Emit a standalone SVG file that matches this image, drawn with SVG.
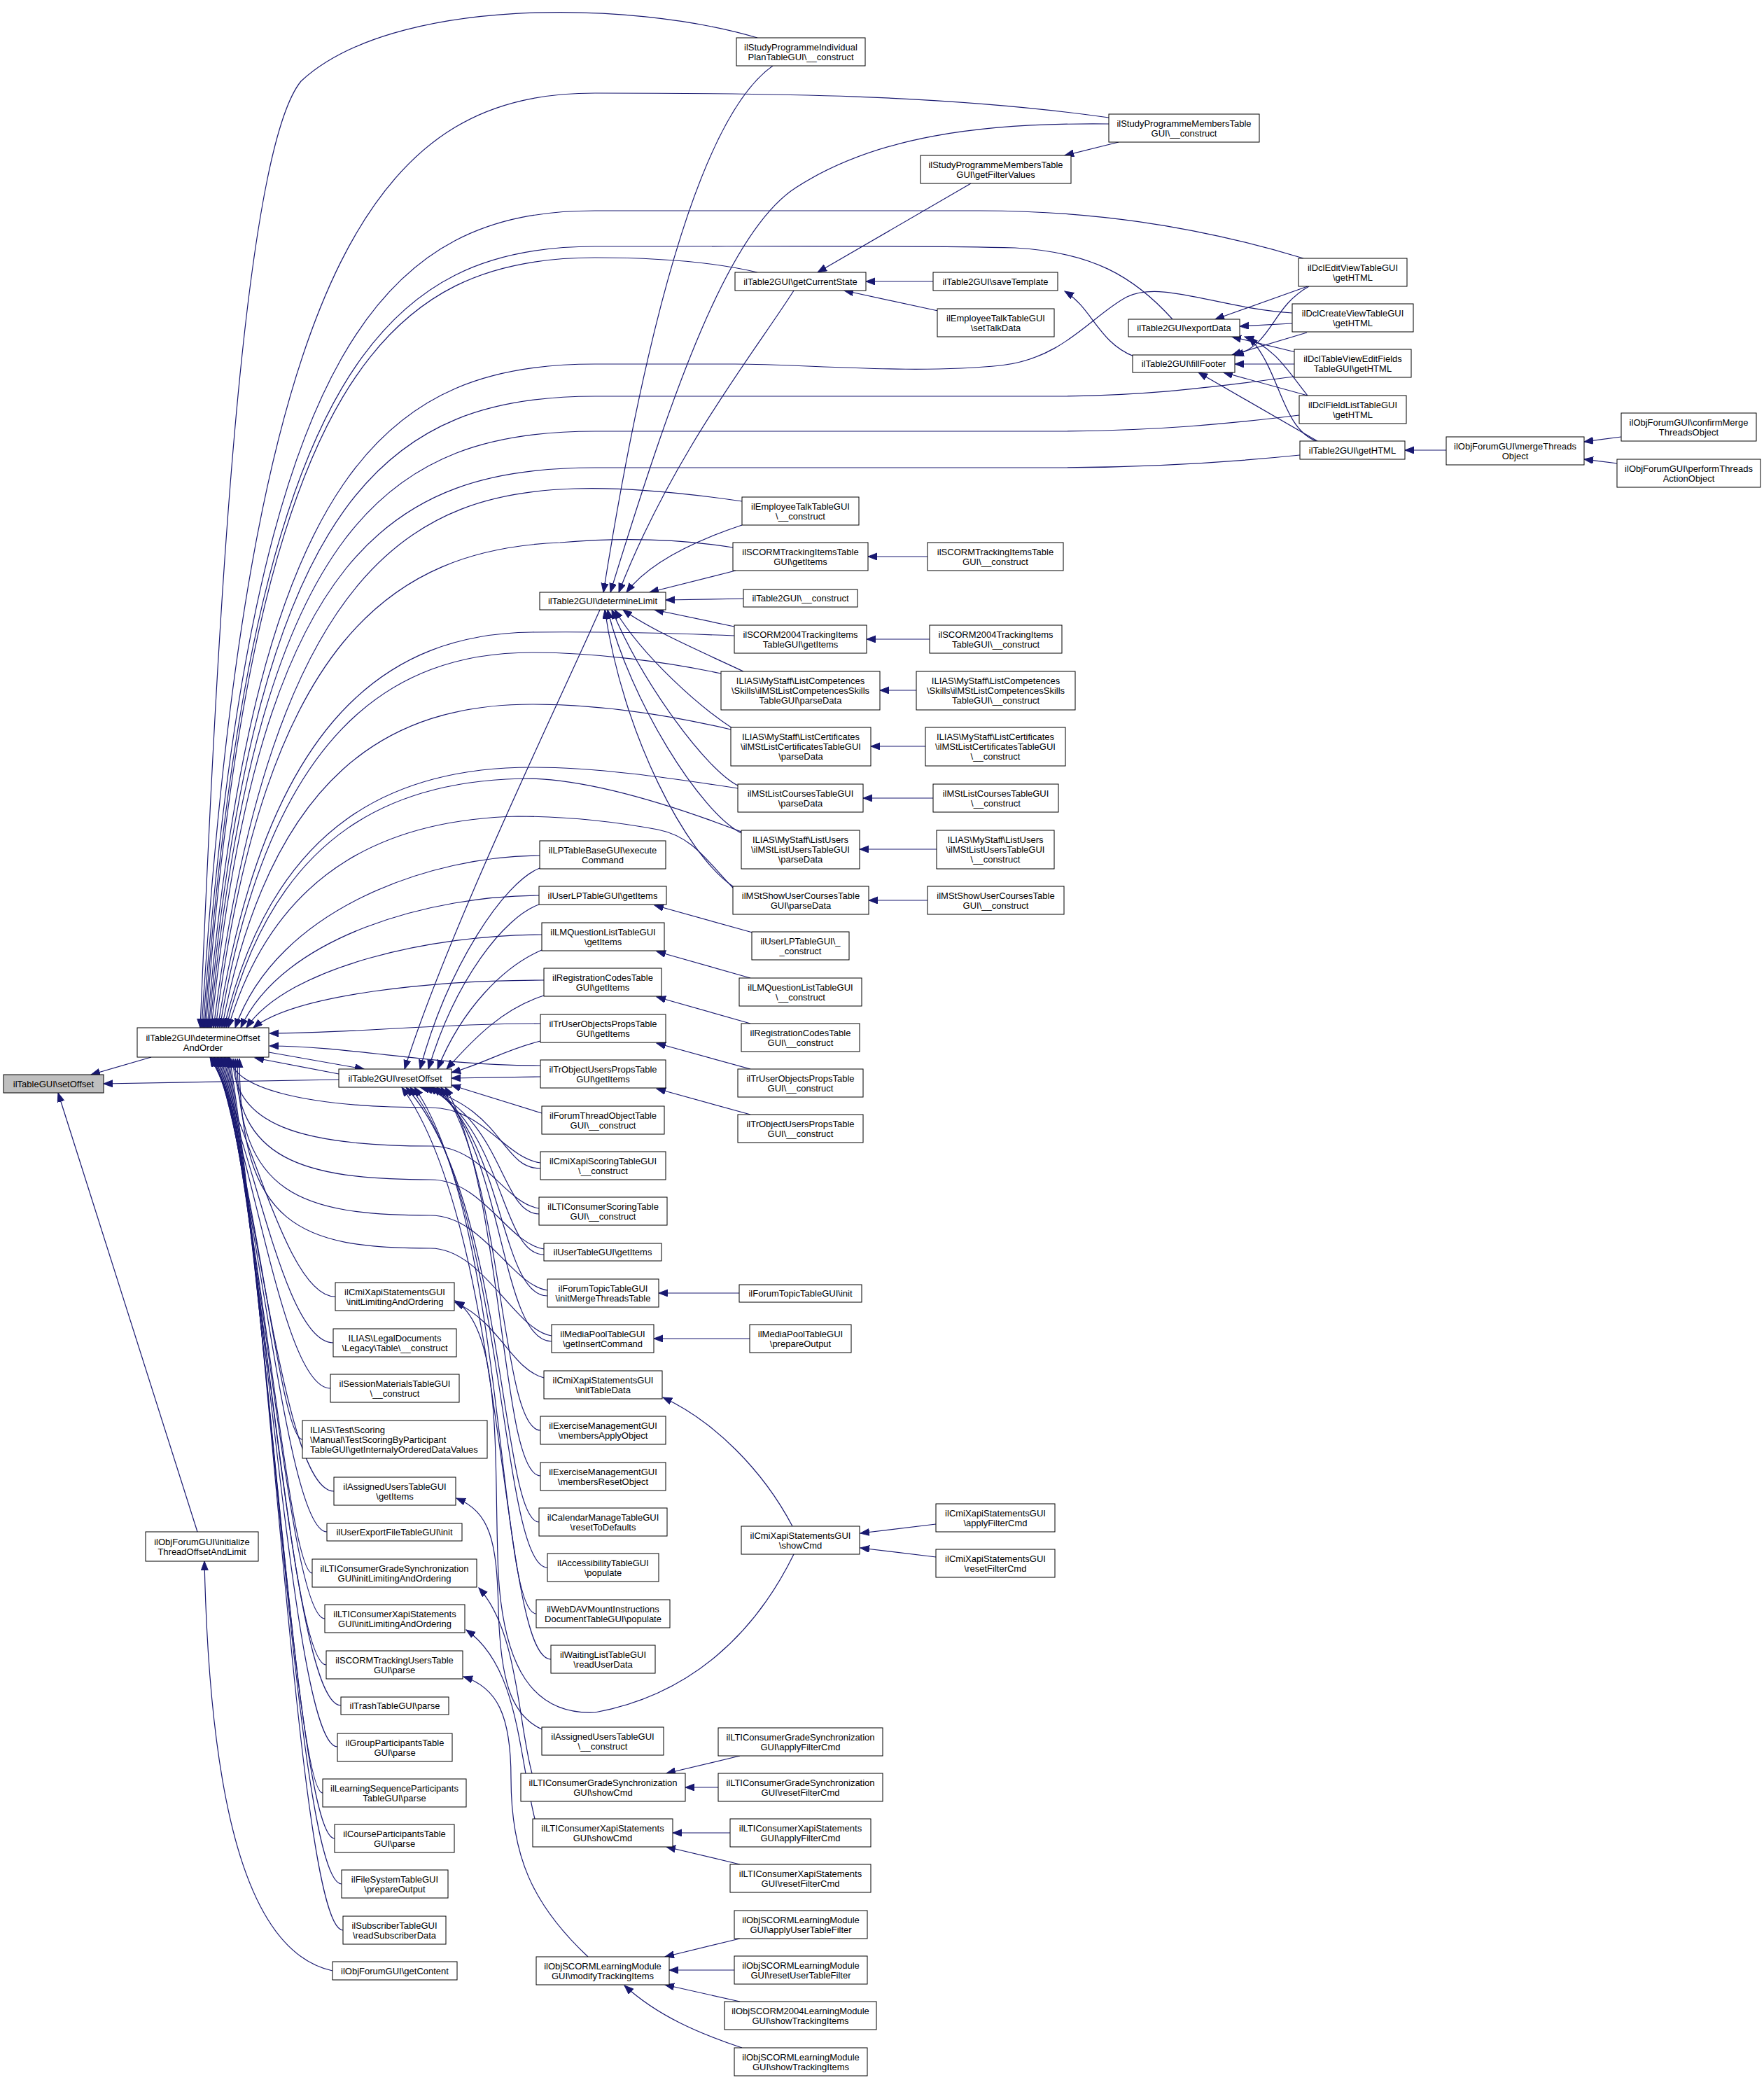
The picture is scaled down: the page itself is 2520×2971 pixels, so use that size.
<svg xmlns="http://www.w3.org/2000/svg" width="2520" height="2971" viewBox="0 0 2520 2971">
<defs>
<marker id="a" markerWidth="14" markerHeight="11" refX="13" refY="5" orient="auto" markerUnits="userSpaceOnUse"><path d="M0,0 L13,5 L0,10 z" fill="#191970" stroke="#191970" stroke-width="1"/></marker>
<style>
.e path{fill:none;stroke:#191970;stroke-width:1.2;marker-end:url(#a)}
.nd rect{fill:#fff;stroke:#000;stroke-width:1}
.nd text{font-family:"Liberation Sans",Arial,Helvetica,sans-serif;font-size:13px;fill:#000;text-anchor:middle}
.root rect{fill:#bfbfbf}
</style>
</defs>
<rect x="0" y="0" width="2520" height="2971" fill="#fff"/>
<g id="edges" class="e">
<path d="M216,1510 L130,1535"/>
<path d="M484,1542 L148,1548"/>
<path d="M282,2188 L83,1561"/>
<path d="M484,1534 L364,1511"/>
<path d="M384,1503 L520,1527"/>
<path d="M475,2815 C360,2790 300,2600 292,2230"/>
<path d="M1082,54 C900,0 560,-5 430,116 C345,220 310,900 286,1468"/>
<path d="M1584,168 C1350,135 1100,133 850,133 C560,133 358,333 288,1468"/>
<path d="M1862,369 C1700,320 1550,301 1400,301 L850,301 C560,301 360,476 290,1468"/>
<path d="M1675,456 C1620,395 1560,360 1450,354 C1300,350 1100,352 850,352 C560,352 362,519 292,1468"/>
<path d="M1082,389 C1010,372 930,368 850,368 C560,368 364,533 294,1468"/>
<path d="M1846,447 C1740,440 1660,400 1610,424 C1560,450 1520,512 1430,522 C1300,535 1150,520 1050,520 L850,520 C560,520 366,662 296,1468"/>
<path d="M1849,538 C1750,550 1650,566 1500,566 L850,566 C560,566 368,701 298,1468"/>
<path d="M1856,593 C1760,605 1650,616 1500,616 L850,616 C560,616 370,744 300,1468"/>
<path d="M1857,650 C1760,660 1650,668 1500,668 L850,668 C560,668 372,788 302,1468"/>
<path d="M1060,716 C950,700 880,696 820,698 C600,705 390,800 305,1468"/>
<path d="M1047,782 C960,768 880,768 800,775 C560,785 378,914 308,1468"/>
<path d="M1049,908 C950,904 850,902 760,903 C560,905 381,1020 311,1468"/>
<path d="M1030,962 C950,945 850,932 760,932 C560,932 384,1045 314,1468"/>
<path d="M1044,1042 C950,1020 850,1006 760,1006 C560,1006 387,1100 317,1468"/>
<path d="M1054,1126 C950,1110 850,1096 760,1096 C570,1096 390,1170 320,1468"/>
<path d="M1059,1188 C960,1150 850,1115 760,1112 C570,1112 393,1183 323,1468"/>
<path d="M1047,1268 C1010,1230 990,1195 940,1185 C870,1172 800,1166 740,1166 C570,1170 396,1230 326,1468"/>
<path d="M771,1222 C620,1222 396,1296 336,1468"/>
<path d="M770,1279 C620,1279 404,1336 344,1468"/>
<path d="M774,1335 C620,1335 412,1380 352,1468"/>
<path d="M777,1400 C620,1400 422,1420 362,1468"/>
<path d="M772,1462 C620,1462 500,1476 385,1476"/>
<path d="M772,1522 C620,1522 500,1494 385,1494"/>
<path d="M479,1852 C410,1852 360,1614 300,1510"/>
<path d="M476,1918 C405,1918 362,1634 302,1510"/>
<path d="M472,1983 C405,1983 364,1654 304,1510"/>
<path d="M432,2056 C400,2056 366,1675 306,1510"/>
<path d="M477,2130 C405,2130 368,1697 308,1510"/>
<path d="M467,2188 C410,2188 370,1715 310,1510"/>
<path d="M446,2247 C412,2247 372,1733 312,1510"/>
<path d="M464,2312 C414,2312 374,1752 314,1510"/>
<path d="M466,2378 C416,2378 376,1772 316,1510"/>
<path d="M487,2436 C418,2436 378,1789 318,1510"/>
<path d="M482,2495 C420,2495 380,1807 320,1510"/>
<path d="M461,2561 C422,2561 382,1827 322,1510"/>
<path d="M478,2626 C424,2626 384,1846 324,1510"/>
<path d="M488,2691 C426,2691 386,1866 326,1510"/>
<path d="M490,2757 C428,2757 388,1885 328,1510"/>
<path d="M772,1661 C720,1653 690,1582 615,1582 C430,1582 330,1552 330,1512"/>
<path d="M770,1726 C720,1718 690,1637 615,1637 C430,1637 333,1607 333,1512"/>
<path d="M777,1784 C725,1776 690,1685 615,1685 C430,1685 336,1655 336,1512"/>
<path d="M782,1843 C730,1835 690,1736 615,1736 C430,1736 339,1706 339,1512"/>
<path d="M788,1908 C735,1900 690,1783 615,1783 C430,1783 342,1753 342,1512"/>
<path d="M857,871 C800,1000 640,1330 578,1527"/>
<path d="M771,1240 C720,1260 640,1380 600,1527"/>
<path d="M770,1292 C720,1310 650,1400 612,1527"/>
<path d="M774,1357 C720,1380 660,1440 625,1527"/>
<path d="M777,1422 C720,1440 680,1480 638,1527"/>
<path d="M772,1487 C720,1500 690,1520 645,1532"/>
<path d="M772,1538 L645,1540"/>
<path d="M774,1590 L645,1550"/>
<path d="M772,1669 C715,1669 720,1582 600,1553"/>
<path d="M770,1734 C715,1734 720,1598 606,1553"/>
<path d="M777,1792 C715,1792 720,1613 612,1553"/>
<path d="M782,1851 C715,1851 720,1628 618,1553"/>
<path d="M788,1916 C715,1916 720,1644 624,1553"/>
<path d="M772,2043 C715,2043 720,1676 630,1553"/>
<path d="M772,2108 C715,2108 720,1692 636,1553"/>
<path d="M770,2174 C715,2174 722,1708 580,1553"/>
<path d="M782,2239 C715,2239 722,1725 586,1553"/>
<path d="M766,2305 C712,2305 722,1741 592,1553"/>
<path d="M787,2370 C715,2370 724,1757 574,1553"/>
<path d="M1104,94 C1010,160 930,420 862,846"/>
<path d="M1584,177 C1400,175 1250,195 1137,268 C1040,330 960,560 872,846"/>
<path d="M1134,415 C1080,500 960,650 884,846"/>
<path d="M1060,750 C1000,770 930,800 895,846"/>
<path d="M1051,815 L928,846"/>
<path d="M1062,855 L951,857"/>
<path d="M1049,895 L935,871"/>
<path d="M1062,959 C1000,930 930,900 890,871"/>
<path d="M1046,1040 C1000,1010 920,940 878,871"/>
<path d="M1054,1122 C1010,1100 920,980 874,871"/>
<path d="M1059,1190 C1000,1160 900,1000 868,871"/>
<path d="M1047,1266 C980,1220 890,1050 864,871"/>
<path d="M1598,203 L1521,222"/>
<path d="M1387,262 L1168,389"/>
<path d="M1333,402 L1237,402"/>
<path d="M1340,444 L1206,415"/>
<path d="M1620,509 C1570,490 1560,440 1521,416"/>
<path d="M1868,409 L1736,456"/>
<path d="M1870,409 C1815,440 1820,490 1764,508"/>
<path d="M1846,462 L1771,466"/>
<path d="M1867,475 L1760,507"/>
<path d="M1851,503 L1760,481"/>
<path d="M1849,520 L1764,520"/>
<path d="M1868,565 C1840,530 1820,495 1778,481"/>
<path d="M1868,565 L1748,532"/>
<path d="M1880,630 C1830,610 1830,530 1784,481"/>
<path d="M1882,630 L1712,532"/>
<path d="M2066,643 L2007,643"/>
<path d="M2316,624 L2263,631"/>
<path d="M2311,662 L2263,656"/>
<path d="M1325,795 L1240,795"/>
<path d="M1328,913 L1238,913"/>
<path d="M1309,986 L1257,986"/>
<path d="M1322,1066 L1244,1066"/>
<path d="M1333,1140 L1233,1140"/>
<path d="M1338,1213 L1228,1213"/>
<path d="M1325,1286 L1241,1286"/>
<path d="M1075,1332 L935,1293"/>
<path d="M1072,1397 L938,1359"/>
<path d="M1072,1462 L938,1424"/>
<path d="M1072,1527 L938,1490"/>
<path d="M1072,1592 L938,1555"/>
<path d="M1056,1847 L941,1847"/>
<path d="M1071,1912 L934,1912"/>
<path d="M1132,2180 C1090,2100 1020,2030 947,1996"/>
<path d="M1134,2220 C1080,2330 990,2420 850,2446 C760,2450 720,2380 712,2250 C705,2100 720,1900 650,1858"/>
<path d="M777,1968 C730,1955 715,1890 650,1860"/>
<path d="M1337,2177 L1229,2190"/>
<path d="M1337,2224 L1229,2211"/>
<path d="M774,2470 C730,2450 715,2400 712,2300 C710,2200 700,2160 652,2140"/>
<path d="M760,2533 C740,2460 740,2330 684,2268"/>
<path d="M764,2598 C740,2500 740,2380 666,2328"/>
<path d="M840,2795 C760,2720 730,2650 730,2540 C730,2450 710,2410 662,2395"/>
<path d="M1057,2508 L952,2533"/>
<path d="M1026,2553 L979,2553"/>
<path d="M1043,2618 L961,2618"/>
<path d="M1057,2663 L952,2638"/>
<path d="M1057,2769 L950,2795"/>
<path d="M1049,2814 L956,2814"/>
<path d="M1057,2859 L950,2835"/>
<path d="M1060,2925 C1000,2905 940,2880 892,2836"/>
</g>
<g id="n0" class="nd root"><rect x="5" y="1535" width="143" height="26"/><text x="76.5" y="1552.5">ilTableGUI\setOffset</text></g>
<g id="n1" class="nd"><rect x="196" y="1468" width="188" height="42"/><text x="290" y="1486.5">ilTable2GUI\determineOffset</text><text x="290" y="1500.5">AndOrder</text></g>
<g id="n2" class="nd"><rect x="208" y="2188" width="161" height="42"/><text x="288.5" y="2206.5">ilObjForumGUI\initialize</text><text x="288.5" y="2220.5">ThreadOffsetAndLimit</text></g>
<g id="n3" class="nd"><rect x="484" y="1527" width="161" height="26"/><text x="564.5" y="1544.5">ilTable2GUI\resetOffset</text></g>
<g id="n4" class="nd"><rect x="479" y="1832" width="170" height="40"/><text x="564" y="1849.5">ilCmiXapiStatementsGUI</text><text x="564" y="1863.5">\initLimitingAndOrdering</text></g>
<g id="n5" class="nd"><rect x="476" y="1898" width="176" height="40"/><text x="564" y="1915.5">ILIAS\LegalDocuments</text><text x="564" y="1929.5">\Legacy\Table\__construct</text></g>
<g id="n6" class="nd"><rect x="472" y="1963" width="184" height="40"/><text x="564" y="1980.5">ilSessionMaterialsTableGUI</text><text x="564" y="1994.5">\__construct</text></g>
<g id="n7" class="nd"><rect x="432" y="2029" width="264" height="54"/><text x="443" y="2046.5" style="text-anchor:start">ILIAS\Test\Scoring</text><text x="443" y="2060.5" style="text-anchor:start">\Manual\TestScoringByParticipant</text><text x="443" y="2074.5" style="text-anchor:start">TableGUI\getInternalyOrderedDataValues</text></g>
<g id="n8" class="nd"><rect x="477" y="2110" width="174" height="40"/><text x="564" y="2127.5">ilAssignedUsersTableGUI</text><text x="564" y="2141.5">\getItems</text></g>
<g id="n9" class="nd"><rect x="467" y="2176" width="193" height="25"/><text x="563.5" y="2193">ilUserExportFileTableGUI\init</text></g>
<g id="n10" class="nd"><rect x="446" y="2227" width="235" height="40"/><text x="563.5" y="2244.5">ilLTIConsumerGradeSynchronization</text><text x="563.5" y="2258.5">GUI\initLimitingAndOrdering</text></g>
<g id="n11" class="nd"><rect x="464" y="2292" width="200" height="40"/><text x="564" y="2309.5">ilLTIConsumerXapiStatements</text><text x="564" y="2323.5">GUI\initLimitingAndOrdering</text></g>
<g id="n12" class="nd"><rect x="466" y="2358" width="195" height="40"/><text x="563.5" y="2375.5">ilSCORMTrackingUsersTable</text><text x="563.5" y="2389.5">GUI\parse</text></g>
<g id="n13" class="nd"><rect x="487" y="2424" width="154" height="25"/><text x="564" y="2441">ilTrashTableGUI\parse</text></g>
<g id="n14" class="nd"><rect x="482" y="2476" width="164" height="40"/><text x="564" y="2493.5">ilGroupParticipantsTable</text><text x="564" y="2507.5">GUI\parse</text></g>
<g id="n15" class="nd"><rect x="461" y="2541" width="205" height="40"/><text x="563.5" y="2558.5">ilLearningSequenceParticipants</text><text x="563.5" y="2572.5">TableGUI\parse</text></g>
<g id="n16" class="nd"><rect x="478" y="2606" width="171" height="40"/><text x="563.5" y="2623.5">ilCourseParticipantsTable</text><text x="563.5" y="2637.5">GUI\parse</text></g>
<g id="n17" class="nd"><rect x="488" y="2671" width="152" height="40"/><text x="564" y="2688.5">ilFileSystemTableGUI</text><text x="564" y="2702.5">\prepareOutput</text></g>
<g id="n18" class="nd"><rect x="490" y="2737" width="147" height="40"/><text x="563.5" y="2754.5">ilSubscriberTableGUI</text><text x="563.5" y="2768.5">\readSubscriberData</text></g>
<g id="n19" class="nd"><rect x="475" y="2802" width="178" height="26"/><text x="564" y="2819.5">ilObjForumGUI\getContent</text></g>
<g id="n20" class="nd"><rect x="771" y="846" width="180" height="25"/><text x="861" y="863">ilTable2GUI\determineLimit</text></g>
<g id="n21" class="nd"><rect x="771" y="1201" width="180" height="40"/><text x="861" y="1218.5">ilLPTableBaseGUI\execute</text><text x="861" y="1232.5">Command</text></g>
<g id="n22" class="nd"><rect x="770" y="1266" width="182" height="26"/><text x="861" y="1283.5">ilUserLPTableGUI\getItems</text></g>
<g id="n23" class="nd"><rect x="774" y="1318" width="175" height="40"/><text x="861.5" y="1335.5">ilLMQuestionListTableGUI</text><text x="861.5" y="1349.5">\getItems</text></g>
<g id="n24" class="nd"><rect x="777" y="1383" width="168" height="40"/><text x="861" y="1400.5">ilRegistrationCodesTable</text><text x="861" y="1414.5">GUI\getItems</text></g>
<g id="n25" class="nd"><rect x="772" y="1449" width="179" height="40"/><text x="861.5" y="1466.5">ilTrUserObjectsPropsTable</text><text x="861.5" y="1480.5">GUI\getItems</text></g>
<g id="n26" class="nd"><rect x="772" y="1514" width="179" height="40"/><text x="861.5" y="1531.5">ilTrObjectUsersPropsTable</text><text x="861.5" y="1545.5">GUI\getItems</text></g>
<g id="n27" class="nd"><rect x="774" y="1580" width="175" height="40"/><text x="861.5" y="1597.5">ilForumThreadObjectTable</text><text x="861.5" y="1611.5">GUI\__construct</text></g>
<g id="n28" class="nd"><rect x="772" y="1645" width="179" height="40"/><text x="861.5" y="1662.5">ilCmiXapiScoringTableGUI</text><text x="861.5" y="1676.5">\__construct</text></g>
<g id="n29" class="nd"><rect x="770" y="1710" width="183" height="40"/><text x="861.5" y="1727.5">ilLTIConsumerScoringTable</text><text x="861.5" y="1741.5">GUI\__construct</text></g>
<g id="n30" class="nd"><rect x="777" y="1776" width="168" height="25"/><text x="861" y="1793">ilUserTableGUI\getItems</text></g>
<g id="n31" class="nd"><rect x="782" y="1827" width="159" height="40"/><text x="861.5" y="1844.5">ilForumTopicTableGUI</text><text x="861.5" y="1858.5">\initMergeThreadsTable</text></g>
<g id="n32" class="nd"><rect x="788" y="1892" width="146" height="40"/><text x="861" y="1909.5">ilMediaPoolTableGUI</text><text x="861" y="1923.5">\getInsertCommand</text></g>
<g id="n33" class="nd"><rect x="777" y="1958" width="169" height="40"/><text x="861.5" y="1975.5">ilCmiXapiStatementsGUI</text><text x="861.5" y="1989.5">\initTableData</text></g>
<g id="n34" class="nd"><rect x="772" y="2023" width="179" height="40"/><text x="861.5" y="2040.5">ilExerciseManagementGUI</text><text x="861.5" y="2054.5">\membersApplyObject</text></g>
<g id="n35" class="nd"><rect x="772" y="2089" width="179" height="40"/><text x="861.5" y="2106.5">ilExerciseManagementGUI</text><text x="861.5" y="2120.5">\membersResetObject</text></g>
<g id="n36" class="nd"><rect x="770" y="2154" width="183" height="40"/><text x="861.5" y="2171.5">ilCalendarManageTableGUI</text><text x="861.5" y="2185.5">\resetToDefaults</text></g>
<g id="n37" class="nd"><rect x="782" y="2219" width="159" height="40"/><text x="861.5" y="2236.5">ilAccessibilityTableGUI</text><text x="861.5" y="2250.5">\populate</text></g>
<g id="n38" class="nd"><rect x="766" y="2285" width="191" height="40"/><text x="861.5" y="2302.5">ilWebDAVMountInstructions</text><text x="861.5" y="2316.5">DocumentTableGUI\populate</text></g>
<g id="n39" class="nd"><rect x="787" y="2350" width="149" height="40"/><text x="861.5" y="2367.5">ilWaitingListTableGUI</text><text x="861.5" y="2381.5">\readUserData</text></g>
<g id="n40" class="nd"><rect x="774" y="2467" width="174" height="40"/><text x="861" y="2484.5">ilAssignedUsersTableGUI</text><text x="861" y="2498.5">\__construct</text></g>
<g id="n41" class="nd"><rect x="744" y="2533" width="235" height="40"/><text x="861.5" y="2550.5">ilLTIConsumerGradeSynchronization</text><text x="861.5" y="2564.5">GUI\showCmd</text></g>
<g id="n42" class="nd"><rect x="761" y="2598" width="200" height="40"/><text x="861" y="2615.5">ilLTIConsumerXapiStatements</text><text x="861" y="2629.5">GUI\showCmd</text></g>
<g id="n43" class="nd"><rect x="766" y="2795" width="190" height="40"/><text x="861" y="2812.5">ilObjSCORMLearningModule</text><text x="861" y="2826.5">GUI\modifyTrackingItems</text></g>
<g id="n44" class="nd"><rect x="1052" y="54" width="184" height="40"/><text x="1144" y="71.5">ilStudyProgrammeIndividual</text><text x="1144" y="85.5">PlanTableGUI\__construct</text></g>
<g id="n45" class="nd"><rect x="1050" y="389" width="187" height="26"/><text x="1143.5" y="406.5">ilTable2GUI\getCurrentState</text></g>
<g id="n46" class="nd"><rect x="1060" y="710" width="167" height="40"/><text x="1143.5" y="727.5">ilEmployeeTalkTableGUI</text><text x="1143.5" y="741.5">\__construct</text></g>
<g id="n47" class="nd"><rect x="1047" y="775" width="193" height="40"/><text x="1143.5" y="792.5">ilSCORMTrackingItemsTable</text><text x="1143.5" y="806.5">GUI\getItems</text></g>
<g id="n48" class="nd"><rect x="1062" y="842" width="163" height="25"/><text x="1143.5" y="859">ilTable2GUI\__construct</text></g>
<g id="n49" class="nd"><rect x="1049" y="893" width="189" height="40"/><text x="1143.5" y="910.5">ilSCORM2004TrackingItems</text><text x="1143.5" y="924.5">TableGUI\getItems</text></g>
<g id="n50" class="nd"><rect x="1030" y="959" width="227" height="55"/><text x="1143.5" y="977">ILIAS\MyStaff\ListCompetences</text><text x="1143.5" y="991">\Skills\ilMStListCompetencesSkills</text><text x="1143.5" y="1005">TableGUI\parseData</text></g>
<g id="n51" class="nd"><rect x="1044" y="1039" width="200" height="55"/><text x="1144" y="1057">ILIAS\MyStaff\ListCertificates</text><text x="1144" y="1071">\ilMStListCertificatesTableGUI</text><text x="1144" y="1085">\parseData</text></g>
<g id="n52" class="nd"><rect x="1054" y="1120" width="179" height="40"/><text x="1143.5" y="1137.5">ilMStListCoursesTableGUI</text><text x="1143.5" y="1151.5">\parseData</text></g>
<g id="n53" class="nd"><rect x="1059" y="1186" width="169" height="55"/><text x="1143.5" y="1204">ILIAS\MyStaff\ListUsers</text><text x="1143.5" y="1218">\ilMStListUsersTableGUI</text><text x="1143.5" y="1232">\parseData</text></g>
<g id="n54" class="nd"><rect x="1047" y="1266" width="194" height="40"/><text x="1144" y="1283.5">ilMStShowUserCoursesTable</text><text x="1144" y="1297.5">GUI\parseData</text></g>
<g id="n55" class="nd"><rect x="1074" y="1331" width="139" height="40"/><text x="1143.5" y="1348.5">ilUserLPTableGUI\_</text><text x="1143.5" y="1362.5">_construct</text></g>
<g id="n56" class="nd"><rect x="1056" y="1397" width="175" height="40"/><text x="1143.5" y="1414.5">ilLMQuestionListTableGUI</text><text x="1143.5" y="1428.5">\__construct</text></g>
<g id="n57" class="nd"><rect x="1059" y="1462" width="169" height="40"/><text x="1143.5" y="1479.5">ilRegistrationCodesTable</text><text x="1143.5" y="1493.5">GUI\__construct</text></g>
<g id="n58" class="nd"><rect x="1054" y="1527" width="179" height="40"/><text x="1143.5" y="1544.5">ilTrUserObjectsPropsTable</text><text x="1143.5" y="1558.5">GUI\__construct</text></g>
<g id="n59" class="nd"><rect x="1054" y="1592" width="179" height="40"/><text x="1143.5" y="1609.5">ilTrObjectUsersPropsTable</text><text x="1143.5" y="1623.5">GUI\__construct</text></g>
<g id="n60" class="nd"><rect x="1056" y="1835" width="175" height="25"/><text x="1143.5" y="1852">ilForumTopicTableGUI\init</text></g>
<g id="n61" class="nd"><rect x="1071" y="1892" width="145" height="40"/><text x="1143.5" y="1909.5">ilMediaPoolTableGUI</text><text x="1143.5" y="1923.5">\prepareOutput</text></g>
<g id="n62" class="nd"><rect x="1059" y="2180" width="169" height="40"/><text x="1143.5" y="2197.5">ilCmiXapiStatementsGUI</text><text x="1143.5" y="2211.5">\showCmd</text></g>
<g id="n63" class="nd"><rect x="1026" y="2468" width="235" height="40"/><text x="1143.5" y="2485.5">ilLTIConsumerGradeSynchronization</text><text x="1143.5" y="2499.5">GUI\applyFilterCmd</text></g>
<g id="n64" class="nd"><rect x="1026" y="2533" width="235" height="40"/><text x="1143.5" y="2550.5">ilLTIConsumerGradeSynchronization</text><text x="1143.5" y="2564.5">GUI\resetFilterCmd</text></g>
<g id="n65" class="nd"><rect x="1043" y="2598" width="201" height="40"/><text x="1143.5" y="2615.5">ilLTIConsumerXapiStatements</text><text x="1143.5" y="2629.5">GUI\applyFilterCmd</text></g>
<g id="n66" class="nd"><rect x="1043" y="2663" width="201" height="40"/><text x="1143.5" y="2680.5">ilLTIConsumerXapiStatements</text><text x="1143.5" y="2694.5">GUI\resetFilterCmd</text></g>
<g id="n67" class="nd"><rect x="1049" y="2729" width="190" height="40"/><text x="1144" y="2746.5">ilObjSCORMLearningModule</text><text x="1144" y="2760.5">GUI\applyUserTableFilter</text></g>
<g id="n68" class="nd"><rect x="1049" y="2794" width="190" height="40"/><text x="1144" y="2811.5">ilObjSCORMLearningModule</text><text x="1144" y="2825.5">GUI\resetUserTableFilter</text></g>
<g id="n69" class="nd"><rect x="1035" y="2859" width="217" height="40"/><text x="1143.5" y="2876.5">ilObjSCORM2004LearningModule</text><text x="1143.5" y="2890.5">GUI\showTrackingItems</text></g>
<g id="n70" class="nd"><rect x="1049" y="2925" width="190" height="40"/><text x="1144" y="2942.5">ilObjSCORMLearningModule</text><text x="1144" y="2956.5">GUI\showTrackingItems</text></g>
<g id="n71" class="nd"><rect x="1315" y="222" width="215" height="40"/><text x="1422.5" y="239.5">ilStudyProgrammeMembersTable</text><text x="1422.5" y="253.5">GUI\getFilterValues</text></g>
<g id="n72" class="nd"><rect x="1333" y="389" width="178" height="26"/><text x="1422" y="406.5">ilTable2GUI\saveTemplate</text></g>
<g id="n73" class="nd"><rect x="1339" y="441" width="167" height="40"/><text x="1422.5" y="458.5">ilEmployeeTalkTableGUI</text><text x="1422.5" y="472.5">\setTalkData</text></g>
<g id="n74" class="nd"><rect x="1325" y="775" width="194" height="40"/><text x="1422" y="792.5">ilSCORMTrackingItemsTable</text><text x="1422" y="806.5">GUI\__construct</text></g>
<g id="n75" class="nd"><rect x="1328" y="893" width="189" height="40"/><text x="1422.5" y="910.5">ilSCORM2004TrackingItems</text><text x="1422.5" y="924.5">TableGUI\__construct</text></g>
<g id="n76" class="nd"><rect x="1309" y="959" width="227" height="55"/><text x="1422.5" y="977">ILIAS\MyStaff\ListCompetences</text><text x="1422.5" y="991">\Skills\ilMStListCompetencesSkills</text><text x="1422.5" y="1005">TableGUI\__construct</text></g>
<g id="n77" class="nd"><rect x="1322" y="1039" width="200" height="55"/><text x="1422" y="1057">ILIAS\MyStaff\ListCertificates</text><text x="1422" y="1071">\ilMStListCertificatesTableGUI</text><text x="1422" y="1085">\__construct</text></g>
<g id="n78" class="nd"><rect x="1333" y="1120" width="179" height="40"/><text x="1422.5" y="1137.5">ilMStListCoursesTableGUI</text><text x="1422.5" y="1151.5">\__construct</text></g>
<g id="n79" class="nd"><rect x="1338" y="1186" width="168" height="55"/><text x="1422" y="1204">ILIAS\MyStaff\ListUsers</text><text x="1422" y="1218">\ilMStListUsersTableGUI</text><text x="1422" y="1232">\__construct</text></g>
<g id="n80" class="nd"><rect x="1325" y="1266" width="195" height="40"/><text x="1422.5" y="1283.5">ilMStShowUserCoursesTable</text><text x="1422.5" y="1297.5">GUI\__construct</text></g>
<g id="n81" class="nd"><rect x="1337" y="2148" width="170" height="40"/><text x="1422" y="2165.5">ilCmiXapiStatementsGUI</text><text x="1422" y="2179.5">\applyFilterCmd</text></g>
<g id="n82" class="nd"><rect x="1337" y="2213" width="170" height="40"/><text x="1422" y="2230.5">ilCmiXapiStatementsGUI</text><text x="1422" y="2244.5">\resetFilterCmd</text></g>
<g id="n83" class="nd"><rect x="1584" y="163" width="215" height="40"/><text x="1691.5" y="180.5">ilStudyProgrammeMembersTable</text><text x="1691.5" y="194.5">GUI\__construct</text></g>
<g id="n84" class="nd"><rect x="1612" y="456" width="159" height="25"/><text x="1691.5" y="473">ilTable2GUI\exportData</text></g>
<g id="n85" class="nd"><rect x="1618" y="507" width="146" height="25"/><text x="1691" y="524">ilTable2GUI\fillFooter</text></g>
<g id="n86" class="nd"><rect x="1855" y="369" width="155" height="40"/><text x="1932.5" y="386.5">ilDclEditViewTableGUI</text><text x="1932.5" y="400.5">\getHTML</text></g>
<g id="n87" class="nd"><rect x="1846" y="434" width="173" height="40"/><text x="1932.5" y="451.5">ilDclCreateViewTableGUI</text><text x="1932.5" y="465.5">\getHTML</text></g>
<g id="n88" class="nd"><rect x="1849" y="499" width="167" height="40"/><text x="1932.5" y="516.5">ilDclTableViewEditFields</text><text x="1932.5" y="530.5">TableGUI\getHTML</text></g>
<g id="n89" class="nd"><rect x="1856" y="565" width="153" height="40"/><text x="1932.5" y="582.5">ilDclFieldListTableGUI</text><text x="1932.5" y="596.5">\getHTML</text></g>
<g id="n90" class="nd"><rect x="1857" y="630" width="150" height="26"/><text x="1932" y="647.5">ilTable2GUI\getHTML</text></g>
<g id="n91" class="nd"><rect x="2066" y="624" width="197" height="40"/><text x="2164.5" y="641.5">ilObjForumGUI\mergeThreads</text><text x="2164.5" y="655.5">Object</text></g>
<g id="n92" class="nd"><rect x="2316" y="590" width="193" height="40"/><text x="2412.5" y="607.5">ilObjForumGUI\confirmMerge</text><text x="2412.5" y="621.5">ThreadsObject</text></g>
<g id="n93" class="nd"><rect x="2310" y="656" width="205" height="40"/><text x="2412.5" y="673.5">ilObjForumGUI\performThreads</text><text x="2412.5" y="687.5">ActionObject</text></g>
</svg>
